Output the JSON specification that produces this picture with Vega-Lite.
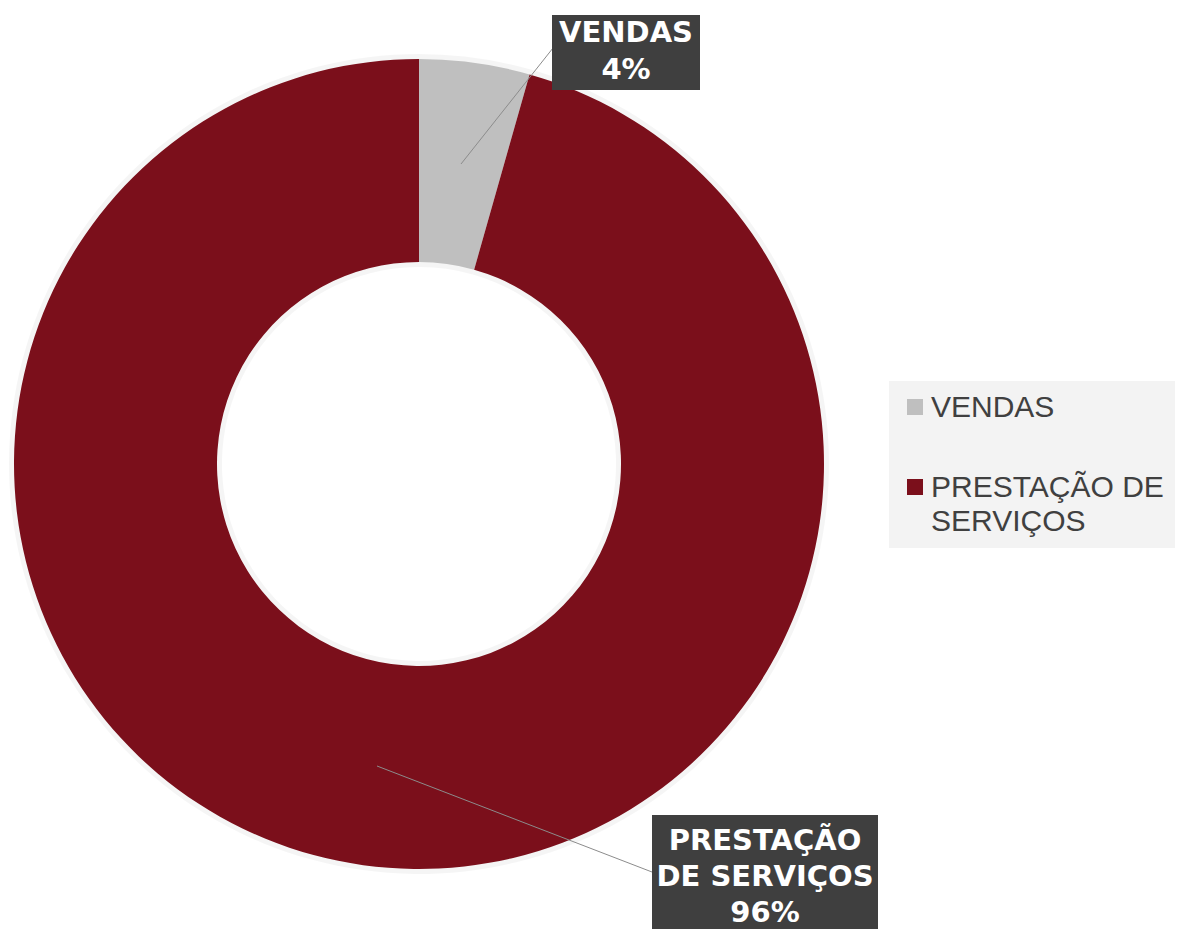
{
  "$schema": "https://vega.github.io/schema/vega-lite/v6.json",
  "width": 838,
  "height": 928,
  "autosize": {"type": "none"},
  "padding": {"left": 0, "top": 0, "right": 342, "bottom": 1},
  "background": "#ffffff",
  "config": {"view": {"stroke": null}},
  "data": {
    "values": [
      {"categoria": "VENDAS", "valor": 4.4, "ordem": 1, "rotulo": "VENDAS\n4%"},
      {"categoria": "PRESTAÇÃO DE SERVIÇOS", "valor": 95.6, "ordem": 2, "rotulo": "PRESTAÇÃO\nDE SERVIÇOS\n96%"}
    ]
  },
  "layer": [
    {
      "mark": {"type": "arc", "outerRadius": 410, "innerRadius": 197, "color": "#000000", "opacity": 0.04, "stroke": null},
      "encoding": {
        "theta": {"field": "valor", "type": "quantitative", "stack": true},
        "order": {"field": "ordem", "type": "quantitative"}
      }
    },
    {
      "mark": {"type": "arc", "outerRadius": 405, "innerRadius": 202, "stroke": null},
      "encoding": {
        "theta": {"field": "valor", "type": "quantitative", "stack": true},
        "order": {"field": "ordem", "type": "quantitative"},
        "color": {
          "field": "categoria",
          "type": "nominal",
          "scale": {"domain": ["VENDAS", "PRESTAÇÃO DE SERVIÇOS"], "range": ["#bfbfbf", "#7b0f1b"]},
          "legend": {
            "orient": "none",
            "legendX": 889,
            "legendY": 381,
            "title": null,
            "fillColor": "#f3f3f3",
            "padding": 11,
            "symbolType": "square",
            "symbolSize": 256,
            "symbolStrokeWidth": 0,
            "labelFontSize": 30,
            "labelFont": "Liberation Sans",
            "labelColor": "#404040",
            "labelLimit": 400,
            "labelOffset": 1,
            "labelBaseline": "alphabetic",
            "rowPadding": 49,
            "labelExpr": "datum.label == 'PRESTAÇÃO DE SERVIÇOS' ? ['PRESTAÇÃO DE', 'SERVIÇOS'] : datum.label",
            "encoding": {
              "labels": {"dy": {"value": 10}, "lineHeight": {"value": 34}}
            }
          }
        }
      }
    },
    {
      "transform": [{"filter": "datum.categoria == 'VENDAS'"}],
      "mark": {"type": "point", "shape": "M42,-300L134,-416", "size": 4, "filled": false, "color": "#8c8c8c", "strokeWidth": 1, "opacity": 1},
      "encoding": {}
    },
    {
      "transform": [{"filter": "datum.categoria == 'VENDAS'"}],
      "mark": {"type": "point", "shape": "M-42,302L233,408", "size": 4, "filled": false, "color": "#8c8c8c", "strokeWidth": 1, "opacity": 1},
      "encoding": {}
    },
    {
      "transform": [{"filter": "datum.categoria == 'VENDAS'"}],
      "mark": {"type": "point", "shape": "M133,-449H281V-374H133Z", "size": 4, "filled": true, "color": "#3f3f3f", "strokeWidth": 0, "opacity": 1},
      "encoding": {}
    },
    {
      "transform": [{"filter": "datum.categoria == 'VENDAS'"}],
      "mark": {"type": "point", "shape": "M233,351H459V475H233Z", "size": 4, "filled": true, "color": "#3f3f3f", "strokeWidth": 0, "opacity": 1},
      "encoding": {}
    },
    {
      "transform": [{"filter": "datum.categoria == 'VENDAS'"}],
      "mark": {"type": "text", "dx": 207, "dy": -422, "align": "center", "baseline": "alphabetic", "lineBreak": "\n", "lineHeight": 37, "font": "DejaVu Sans", "fontWeight": "bold", "fontSize": 29, "color": "#ffffff"},
      "encoding": {"text": {"field": "rotulo", "type": "nominal"}}
    },
    {
      "transform": [{"filter": "datum.categoria == 'PRESTAÇÃO DE SERVIÇOS'"}],
      "mark": {"type": "text", "dx": 346, "dy": 386, "align": "center", "baseline": "alphabetic", "lineBreak": "\n", "lineHeight": 36, "font": "DejaVu Sans", "fontWeight": "bold", "fontSize": 29, "color": "#ffffff"},
      "encoding": {"text": {"field": "rotulo", "type": "nominal"}}
    }
  ]
}
